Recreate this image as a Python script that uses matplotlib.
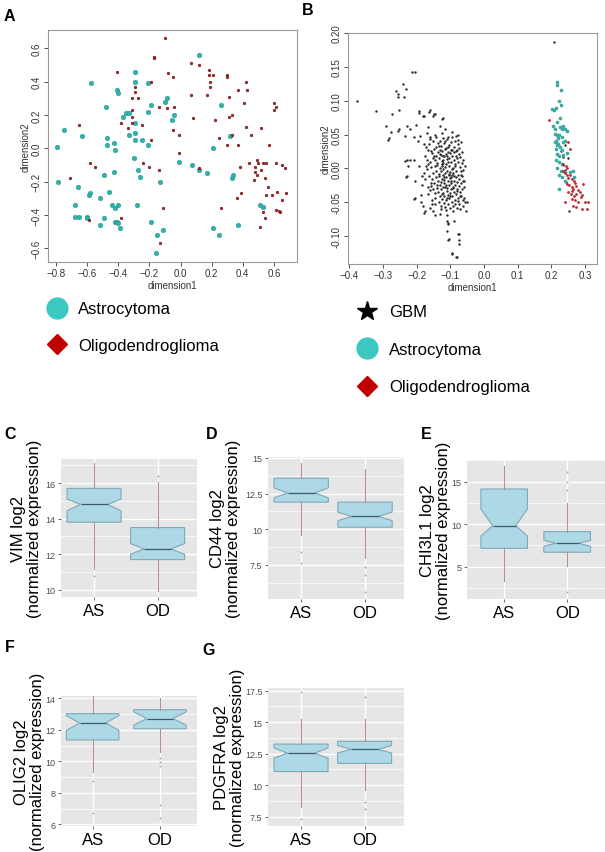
import matplotlib
matplotlib.use("Agg")
import matplotlib.pyplot as plt
from matplotlib.lines import Line2D
from matplotlib.ticker import AutoMinorLocator

plt.rcParams['font.family'] = ['Liberation Sans', 'DejaVu Sans']

# ---------------- data: panel A (MDS, low grade gliomas) ----------------
astro_a = [(-0.79, 0.01), (-0.75, 0.11), (-0.785, -0.20), (-0.63, 0.075), (-0.575, 0.39),
           (-0.48, 0.25), (-0.66, -0.23), (-0.59, -0.28), (-0.58, -0.27), (-0.68, -0.34),
           (-0.68, -0.41), (-0.65, -0.41), (-0.60, -0.41), (-0.60, -0.42), (-0.52, -0.30),
           (-0.52, -0.46), (-0.49, -0.42), (-0.49, -0.16), (-0.46, -0.26), (-0.47, 0.06),
           (-0.47, 0.02), (-0.43, 0.03), (-0.42, -0.01), (-0.43, -0.14), (-0.44, -0.34),
           (-0.42, -0.36), (-0.42, -0.44), (-0.41, -0.44), (-0.40, -0.45), (-0.39, -0.48),
           (-0.40, -0.34), (-0.41, 0.35), (-0.40, 0.33), (-0.37, 0.19), (-0.35, 0.21),
           (-0.33, 0.21), (-0.33, 0.08), (-0.30, -0.06), (-0.29, 0.46), (-0.29, 0.40),
           (-0.29, 0.15), (-0.29, 0.09), (-0.29, 0.05), (-0.25, 0.05), (-0.27, -0.13),
           (-0.26, -0.17), (-0.28, -0.34), (-0.21, 0.02), (-0.21, 0.39), (-0.21, 0.22),
           (-0.19, 0.26), (-0.19, -0.44), (-0.13, -0.20), (-0.15, -0.52), (-0.16, -0.63),
           (-0.10, 0.28), (-0.09, 0.30), (-0.11, -0.49), (-0.055, 0.17), (-0.04, 0.20),
           (-0.01, -0.08), (0.075, -0.10), (0.12, 0.56), (0.12, -0.13), (0.17, -0.15),
           (0.21, 0.0), (0.21, -0.48), (0.25, -0.52), (0.26, 0.26), (0.32, 0.075),
           (0.33, -0.18), (0.34, -0.16), (0.37, -0.46), (0.51, -0.34), (0.53, -0.35)]
oligo_a = [(-0.65, 0.14), (-0.71, -0.18), (-0.58, -0.09), (-0.55, -0.11), (-0.59, -0.43),
           (-0.41, 0.46), (-0.38, 0.15), (-0.38, -0.42), (-0.34, 0.12), (-0.31, 0.23),
           (-0.31, 0.30), (-0.31, 0.19), (-0.31, 0.15), (-0.29, 0.34), (-0.29, 0.37),
           (-0.27, 0.30), (-0.25, 0.14), (-0.24, -0.09), (-0.20, -0.11), (-0.19, 0.40),
           (-0.19, 0.05), (-0.17, 0.55), (-0.17, 0.54), (-0.14, 0.25), (-0.14, -0.13),
           (-0.13, -0.57), (-0.11, -0.36), (-0.08, 0.45), (-0.10, 0.66), (-0.09, 0.24),
           (-0.05, 0.43), (-0.04, 0.25), (-0.05, 0.11), (-0.01, -0.03), (-0.01, 0.08),
           (0.07, 0.32), (0.07, 0.51), (0.08, 0.18), (0.12, 0.50), (0.12, -0.12),
           (0.17, 0.32), (0.18, 0.44), (0.18, 0.47), (0.19, 0.40), (0.19, 0.37),
           (0.21, 0.44), (0.22, 0.17), (0.25, 0.06), (0.26, -0.36), (0.30, 0.44),
           (0.30, 0.43), (0.30, 0.02), (0.31, 0.31), (0.31, 0.19), (0.33, 0.20),
           (0.33, 0.08), (0.36, -0.30), (0.37, 0.35), (0.37, 0.02), (0.38, -0.11),
           (0.39, -0.27), (0.41, 0.27), (0.42, 0.40), (0.42, 0.13), (0.43, 0.35),
           (0.44, -0.09), (0.45, 0.08), (0.47, -0.19), (0.48, -0.11), (0.48, -0.14),
           (0.49, -0.16), (0.49, -0.07), (0.50, -0.09), (0.51, -0.47), (0.52, 0.12),
           (0.52, -0.13), (0.53, -0.09), (0.53, -0.38), (0.54, -0.42), (0.54, -0.18),
           (0.55, -0.09), (0.56, -0.23), (0.55, -0.28), (0.57, 0.02), (0.59, -0.28),
           (0.60, 0.27), (0.60, 0.23), (0.61, 0.25), (0.61, -0.09), (0.61, -0.37),
           (0.62, -0.26), (0.64, -0.38), (0.635, -0.375), (0.65, -0.10), (0.65, -0.31),
           (0.67, -0.12), (0.68, -0.27)]

# ---------------- data: panel B (MDS with GBM) ----------------
gbm_outer = [(-0.376, 0.099), (-0.321, 0.085), (-0.292, 0.063), (-0.284, 0.042), (-0.277, 0.054),
             (-0.273, 0.081), (-0.261, 0.115), (-0.256, 0.110), (-0.254, 0.106), (-0.253, 0.087),
             (-0.256, 0.056), (-0.242, 0.124), (-0.237, 0.105), (-0.232, 0.118), (-0.234, 0.011),
             (-0.226, 0.004), (-0.232, -0.013), (-0.213, 0.143), (-0.204, 0.143), (-0.208, -0.045),
             (-0.193, 0.082), (-0.186, -0.050), (-0.182, 0.077), (-0.178, -0.065), (-0.164, 0.084),
             (-0.150, 0.078), (-0.146, 0.080), (-0.152, -0.063), (-0.154, -0.052), (-0.124, 0.073),
             (-0.111, -0.077), (-0.106, -0.082), (-0.104, -0.104), (-0.095, -0.126), (-0.081, -0.130),
             (-0.075, -0.097), (-0.073, -0.111), (-0.061, -0.047), (-0.051, -0.049), (-0.076, 0.049),
             (-0.192, 0.085), (-0.179, 0.077), (-0.160, 0.086), (-0.147, 0.080), (-0.121, 0.074),
             (-0.202, 0.064), (-0.228, 0.063), (-0.219, 0.058), (-0.253, 0.058), (-0.282, 0.045),
             (-0.165, 0.061), (-0.170, 0.053), (-0.189, 0.048), (-0.209, 0.046), (-0.235, 0.048),
             (-0.130, 0.063), (-0.116, 0.059), (-0.096, 0.054), (-0.083, 0.048), (-0.145, 0.050),
             (-0.126, 0.053), (-0.106, 0.046), (-0.077, 0.042), (-0.160, 0.046), (-0.179, 0.036),
             (-0.196, 0.041), (-0.228, 0.013), (-0.219, 0.013), (-0.209, 0.013), (-0.228, -0.011),
             (-0.206, -0.018), (-0.194, 0.003), (-0.184, -0.011), (-0.185, -0.024), (-0.204, -0.044),
             (-0.186, -0.039), (-0.182, -0.056), (-0.176, -0.063), (-0.160, -0.058), (-0.145, -0.068),
             (-0.130, -0.067), (-0.110, -0.068), (-0.106, -0.081), (-0.110, -0.093), (-0.106, -0.105),
             (-0.077, -0.096), (-0.075, -0.105), (-0.096, -0.125), (-0.083, -0.130), (-0.088, -0.077),
             (-0.072, -0.060), (-0.062, -0.056), (-0.053, -0.063), (-0.057, -0.049), (-0.067, -0.041),
             (-0.060, -0.019), (-0.067, -0.009)]
gbm_core = [(-0.176, 0.019), (-0.173, 0.004), (-0.177, -0.007), (-0.174, -0.016), (-0.172, 0.031),
            (-0.167, 0.027), (-0.170, -0.001), (-0.166, -0.028), (-0.169, 0.012), (-0.165, -0.038),
            (-0.162, 0.036), (-0.159, 0.009), (-0.163, -0.011), (-0.160, -0.032), (-0.158, -0.022),
            (-0.161, 0.044), (-0.154, 0.023), (-0.156, 0.002), (-0.153, -0.016), (-0.157, -0.026),
            (-0.152, 0.015), (-0.155, -0.046), (-0.150, 0.040), (-0.147, 0.018), (-0.151, -0.007),
            (-0.148, -0.021), (-0.146, -0.036), (-0.149, 0.029), (-0.145, -0.052), (-0.142, 0.031),
            (-0.144, 0.012), (-0.141, -0.003), (-0.143, -0.013), (-0.140, -0.029), (-0.144, -0.043),
            (-0.139, 0.005), (-0.142, 0.047), (-0.137, 0.024), (-0.139, 0.008), (-0.136, -0.019),
            (-0.138, -0.034), (-0.135, -0.049), (-0.137, 0.037), (-0.134, -0.008), (-0.132, 0.041),
            (-0.134, 0.016), (-0.131, 0.001), (-0.133, -0.011), (-0.130, -0.025), (-0.132, -0.040),
            (-0.129, -0.055), (-0.131, 0.028), (-0.127, 0.033), (-0.129, 0.020), (-0.126, 0.006),
            (-0.128, -0.004), (-0.125, -0.015), (-0.127, -0.030), (-0.124, -0.045), (-0.126, 0.011),
            (-0.128, -0.060), (-0.123, 0.045), (-0.125, 0.026), (-0.122, 0.013), (-0.121, -0.001),
            (-0.123, -0.009), (-0.120, -0.021), (-0.122, -0.036), (-0.119, -0.051), (-0.124, 0.003),
            (-0.119, 0.037), (-0.118, 0.018), (-0.121, 0.008), (-0.117, -0.006), (-0.119, -0.017),
            (-0.116, -0.027), (-0.118, -0.041), (-0.115, -0.057), (-0.117, 0.029), (-0.114, 0.030),
            (-0.113, 0.022), (-0.115, 0.002), (-0.112, -0.012), (-0.114, -0.024), (-0.111, -0.033),
            (-0.113, -0.047), (-0.112, -0.062), (-0.110, 0.014), (-0.109, 0.043), (-0.108, 0.010),
            (-0.110, -0.003), (-0.107, -0.019), (-0.109, -0.029), (-0.106, -0.039), (-0.108, -0.053),
            (-0.107, 0.025), (-0.105, -0.008), (-0.104, 0.034), (-0.103, 0.016), (-0.105, 0.004),
            (-0.102, -0.014), (-0.104, -0.025), (-0.101, -0.036), (-0.103, -0.044), (-0.102, -0.058),
            (-0.100, 0.023), (-0.099, 0.028), (-0.098, 0.009), (-0.100, -0.005), (-0.097, -0.021),
            (-0.099, -0.031), (-0.096, -0.049), (-0.098, 0.039), (-0.097, -0.013), (-0.095, 0.046),
            (-0.094, 0.019), (-0.093, 0.001), (-0.095, -0.010), (-0.092, -0.027), (-0.094, -0.040),
            (-0.093, -0.055), (-0.091, -0.063), (-0.090, 0.032), (-0.089, 0.013), (-0.091, -0.007),
            (-0.088, -0.018), (-0.090, -0.034), (-0.087, -0.046), (-0.089, 0.024), (-0.086, 0.040),
            (-0.085, 0.006), (-0.084, -0.013), (-0.086, -0.024), (-0.083, -0.038), (-0.085, -0.052),
            (-0.082, 0.018), (-0.081, 0.027), (-0.080, 0.015), (-0.082, -0.003), (-0.079, -0.020),
            (-0.081, -0.030), (-0.078, -0.043), (-0.080, -0.058), (-0.077, 0.036), (-0.076, 0.009),
            (-0.078, -0.009), (-0.075, -0.026), (-0.077, -0.048), (-0.074, 0.021), (-0.073, 0.030),
            (-0.072, 0.002), (-0.074, -0.015), (-0.071, -0.035), (-0.073, -0.053), (-0.070, 0.017),
            (-0.069, -0.004), (-0.068, -0.022), (-0.070, -0.041), (-0.067, 0.039), (-0.066, 0.025),
            (-0.065, 0.008), (-0.064, -0.011), (-0.066, -0.030), (-0.062, -0.002), (-0.061, -0.019),
            (-0.060, -0.044), (-0.063, 0.013), (-0.058, -0.027), (-0.057, 0.004),
            (-0.146, 0.003), (-0.139, -0.024), (-0.131, 0.022), (-0.126, -0.038), (-0.121, 0.018),
            (-0.118, -0.012), (-0.114, 0.007), (-0.111, -0.044), (-0.107, 0.031), (-0.103, -0.009),
            (-0.099, -0.018), (-0.095, 0.028), (-0.091, -0.029), (-0.087, 0.004), (-0.134, 0.033),
            (-0.152, -0.031), (-0.158, 0.026), (-0.166, 0.006), (-0.143, 0.019), (-0.129, -0.020),
            (-0.123, -0.028), (-0.117, 0.040), (-0.110, 0.019), (-0.102, -0.041), (-0.096, -0.001),
            (-0.089, -0.011), (-0.083, 0.026), (-0.079, -0.033)]
gbm_right = [(0.209, 0.187), (0.241, 0.034), (0.234, 0.017), (0.236, 0.005), (0.250, 0.016),
             (0.245, -0.020), (0.253, -0.063), (0.228, 0.026), (0.240, -0.002)]
astro_b = [(0.216, 0.128), (0.218, 0.123), (0.229, 0.116), (0.224, 0.100), (0.228, 0.094),
           (0.203, 0.088), (0.209, 0.086), (0.213, 0.089), (0.226, 0.074), (0.216, 0.068),
           (0.206, 0.063), (0.210, 0.059), (0.226, 0.061), (0.231, 0.059), (0.236, 0.063),
           (0.241, 0.059), (0.246, 0.056), (0.211, 0.051), (0.218, 0.049), (0.224, 0.050),
           (0.231, 0.046), (0.211, 0.039), (0.216, 0.034), (0.221, 0.036), (0.226, 0.031),
           (0.214, 0.029), (0.236, 0.039), (0.242, 0.041), (0.231, 0.027), (0.218, 0.022),
           (0.224, 0.019), (0.236, 0.020), (0.246, 0.023), (0.214, 0.012), (0.224, 0.009),
           (0.231, 0.007), (0.218, 0.000), (0.228, -0.003), (0.241, -0.005), (0.224, -0.010),
           (0.231, -0.013), (0.256, -0.005), (0.265, -0.004), (0.241, -0.018), (0.267, -0.013),
           (0.223, -0.030), (0.219, 0.045), (0.213, 0.041)]
oligo_b = [(0.193, 0.072), (0.251, 0.039), (0.256, 0.029), (0.236, 0.007), (0.243, 0.004),
           (0.248, 0.001), (0.234, -0.003), (0.241, -0.006), (0.246, -0.010), (0.256, -0.009),
           (0.251, -0.014), (0.261, -0.015), (0.267, -0.019), (0.246, -0.023), (0.254, -0.025),
           (0.261, -0.027), (0.265, -0.030), (0.273, -0.026), (0.280, -0.032), (0.251, -0.035),
           (0.259, -0.037), (0.267, -0.040), (0.275, -0.037), (0.285, -0.035), (0.290, -0.039),
           (0.295, -0.023), (0.261, -0.045), (0.270, -0.047), (0.280, -0.050), (0.287, -0.042),
           (0.265, -0.055), (0.275, -0.057), (0.300, -0.049), (0.290, -0.060), (0.305, -0.060),
           (0.241, -0.050), (0.310, -0.050), (0.263, -0.033), (0.270, -0.022)]

# ---------------- data: box plots C-G (AS, OD) ----------------
groups = ["AS", "OD"]
genes = ["VIM", "CD44", "CHI3L1", "OLIG2", "PDGFRA"]
q1 = {"VIM": [13.8, 11.7], "CD44": [11.9, 10.14], "CHI3L1": [7.16, 6.7],
      "OLIG2": [11.36, 12.07], "PDGFRA": [11.08, 11.73]}
med = {"VIM": [14.8, 12.3], "CD44": [12.55, 10.9], "CHI3L1": [9.82, 7.75],
       "OLIG2": [12.44, 12.72], "PDGFRA": [12.54, 12.84]}
q3 = {"VIM": [15.7, 13.5], "CD44": [13.58, 11.9], "CHI3L1": [14.14, 9.12],
      "OLIG2": [13.03, 13.28], "PDGFRA": [13.26, 13.48]}
whislo = {"VIM": [11.2, 9.94], "CD44": [9.6, 7.97], "CHI3L1": [3.35, 5.1],
          "OLIG2": [9.32, 10.57], "PDGFRA": [8.26, 9.6]}
whishi = {"VIM": [17.1, 16.07], "CD44": [14.63, 14.2], "CHI3L1": [16.9, 12.45],
          "OLIG2": [14.2, 14.0], "PDGFRA": [15.25, 15.25]}
notch_lo = {"VIM": [14.44, 12.0], "CD44": [12.2, 10.6], "CHI3L1": [8.6, 7.4],
            "OLIG2": [11.97, 12.3], "PDGFRA": [12.15, 12.55]}
notch_hi = {"VIM": [15.1, 12.6], "CD44": [12.9, 11.2], "CHI3L1": [11.8, 8.1],
            "OLIG2": [12.9, 13.15], "PDGFRA": [12.95, 13.15]}
outliers = {"VIM": [[10.79], [16.4]], "CD44": [[8.39, 7.63], [7.34, 6.8, 5.59]],
            "CHI3L1": [[], [16.1, 15.0, 14.06, 1.98]],
            "OLIG2": [[8.76, 6.73], [10.2, 9.95, 9.68, 7.25, 6.42]],
            "PDGFRA": [[17.4, 7.28], [16.97, 8.7, 8.1]]}
yticks = {"VIM": [10, 12, 14, 16], "CD44": [7.5, 10, 12.5, 15], "CHI3L1": [5, 10, 15],
          "OLIG2": [6, 8, 10, 12, 14], "PDGFRA": [7.5, 10, 12.5, 15, 17.5]}
yticklabels = {"VIM": ["10", "12", "14", "16"], "CD44": ["7.5", "10", "12.5", "15"],
               "CHI3L1": ["5", "10", "15"], "OLIG2": ["6", "8", "10", "12", "14"],
               "PDGFRA": ["7.5", "10", "12.5", "15", "17.5"]}
ylims = {"VIM": (9.6, 17.35), "CD44": (5.1, 15.07), "CHI3L1": (1.2, 17.55),
         "OLIG2": (5.9, 14.15), "PDGFRA": (6.76, 17.71)}

# ---------------- layout (pixel boxes: left, top, right, bottom) ----------------
W, H = 605, 853
fig = plt.figure(figsize=(W / 100, H / 100), dpi=100)


def px_axes(l, t, r, b):
    return fig.add_axes([l / W, 1 - b / H, (r - l) / W, (b - t) / H])


def xs(pts):
    return [p[0] for p in pts]


def ys(pts):
    return [p[1] for p in pts]


teal_a = "#2fb3ab"
red_a = "#a8201f"
teal_leg = "#3cc7c1"
red_leg = "#c00000"

# panel A
axA = px_axes(48, 31, 297, 263)
axA.scatter(xs(astro_a), ys(astro_a), s=11, color=teal_a,
            edgecolors="#1f8a84", linewidths=0.3, zorder=3)
axA.scatter(xs(oligo_a), ys(oligo_a), s=4, color=red_a,
            edgecolors="#5a1010", linewidths=0.3, zorder=3)
axA.set_xlim(-0.851, 0.748)
axA.set_ylim(-0.682, 0.71)
axA.set_xticks([-0.8, -0.6, -0.4, -0.2, 0.0, 0.2, 0.4, 0.6])
axA.set_yticks([-0.6, -0.4, -0.2, 0.0, 0.2, 0.4, 0.6])
axA.set_xlabel("dimension1", fontsize=7, color="#333333", labelpad=1)
axA.set_ylabel("dimension2", fontsize=7, color="#333333", labelpad=1)

# panel B
axB = px_axes(348, 34, 597, 265)
gbm_all = gbm_outer + gbm_core + gbm_right
axB.scatter(xs(gbm_all), ys(gbm_all), s=3, color="#2a2a2a", linewidths=0, zorder=3)
axB.scatter(xs(astro_b), ys(astro_b), s=7, color="#3aaaa2", linewidths=0, zorder=4)
axB.scatter(xs(oligo_b), ys(oligo_b), s=4, color="#c0282d", linewidths=0, zorder=5)
axB.set_xlim(-0.404, 0.336)
axB.set_ylim(-0.141, 0.2)
axB.set_xticks([-0.4, -0.3, -0.2, -0.1, 0.0, 0.1, 0.2, 0.3])
axB.set_yticks([-0.10, -0.05, 0.0, 0.05, 0.10, 0.15, 0.20])
axB.set_yticklabels(["-0.10", "-0.05", "0.00", "0.05", "0.10", "0.15", "0.20"])
axB.set_xlabel("dimension1", fontsize=7, color="#333333", labelpad=1)
axB.set_ylabel("dimension2", fontsize=7, color="#333333", labelpad=1)

for ax in (axA, axB):
    for sp in ax.spines.values():
        sp.set_color("#999999")
        sp.set_linewidth(0.8)
    ax.tick_params(labelsize=7, colors="#333333", length=3, width=0.6, pad=1.5)
    for lab in ax.get_yticklabels():
        lab.set_rotation(90)
        lab.set_va("center")

# legends
leg_a = [Line2D([], [], marker="o", ls="", color=teal_leg, markersize=15),
         Line2D([], [], marker="D", ls="", color=red_leg, markersize=10)]
fig.legend(leg_a, ["Astrocytoma", "Oligodendroglioma"], loc="upper left",
           bbox_to_anchor=(40 / W, 1 - 294 / H), frameon=False, fontsize=12,
           handlelength=1.0, handletextpad=0.8, labelspacing=1.3, borderpad=0)
leg_b = [Line2D([], [], marker="*", ls="", color="black", markersize=15),
         Line2D([], [], marker="o", ls="", color=teal_leg, markersize=15),
         Line2D([], [], marker="D", ls="", color=red_leg, markersize=10)]
fig.legend(leg_b, ["GBM", "Astrocytoma", "Oligodendroglioma"], loc="upper left",
           bbox_to_anchor=(350 / W, 1 - 297 / H), frameon=False, fontsize=12,
           handlelength=1.0, handletextpad=0.85, labelspacing=1.35, borderpad=0)

# box panels
box_pos = {"VIM": (61, 460, 197, 598), "CD44": (268, 458, 404, 600),
           "CHI3L1": (467, 461, 605, 600), "OLIG2": (61, 697, 197, 827),
           "PDGFRA": (268, 689, 404, 827)}
box_xlim = {"VIM": (0.48, 2.62), "CD44": (0.48, 2.61), "CHI3L1": (0.41, 2.6),
            "OLIG2": (0.53, 2.55), "PDGFRA": (0.48, 2.62)}
box_w = {"VIM": 0.85, "CD44": 0.85, "CHI3L1": 0.74, "OLIG2": 0.78, "PDGFRA": 0.85}
label_x = {"VIM": -19, "CD44": -27, "CHI3L1": -16, "OLIG2": -16, "PDGFRA": -23}

for g in genes:
    l, t, r, b = box_pos[g]
    ax = px_axes(l, t, r, b)
    stats = []
    for i, grp in enumerate(groups):
        stats.append(dict(med=med[g][i], q1=q1[g][i], q3=q3[g][i],
                          whislo=whislo[g][i], whishi=whishi[g][i],
                          cilo=notch_lo[g][i], cihi=notch_hi[g][i],
                          fliers=outliers[g][i], label=grp))
    ax.set_facecolor("#e6e6e6")
    ax.bxp(stats, positions=[1, 2], widths=box_w[g], shownotches=True,
           patch_artist=True, showcaps=False,
           boxprops=dict(facecolor="#add8e6", edgecolor="#7fa9b8", linewidth=0.8),
           medianprops=dict(color="#3c5a66", linewidth=0.9),
           whiskerprops=dict(color="#b49090", linewidth=0.8),
           flierprops=dict(marker="o", markersize=1.5, markerfacecolor="#b0b0b0",
                           markeredgecolor="none"), zorder=3)
    ax.set_xlim(*box_xlim[g])
    ax.set_ylim(*ylims[g])
    ax.set_yticks(yticks[g])
    ax.set_yticklabels(yticklabels[g])
    ax.set_xticks([1, 2])
    ax.set_xticklabels(groups)
    ax.yaxis.set_minor_locator(AutoMinorLocator(2))
    ax.grid(True, which="major", color="white", linewidth=1.0, zorder=0)
    ax.grid(True, which="minor", axis="y", color="white", linewidth=0.5, zorder=0)
    ax.set_axisbelow(True)
    for sp in ax.spines.values():
        sp.set_visible(False)
    ax.tick_params(axis="y", labelsize=6.5, colors="#4d4d4d", length=2.5, width=0.6, pad=1.5)
    ax.tick_params(axis="x", labelsize=12, labelcolor="black", color="#4d4d4d",
                   length=2.5, width=0.6, pad=1.5)
    ax.tick_params(which="minor", length=0)
    ax.set_ylabel(f"{g} log2\n(normalized expression)", fontsize=12, linespacing=1.05)
    ax.yaxis.set_label_coords(label_x[g] / (r - l), 0.5)

# panel letters
for letter, x, y in [("A", 4, 9), ("B", 302, 3), ("C", 4, 427), ("D", 206, 427),
                     ("E", 421, 427), ("F", 5, 640), ("G", 202, 643)]:
    fig.text(x / W, 1 - y / H, letter, fontsize=11.5, fontweight="bold", va="top", ha="left")

fig.savefig("out.png", dpi=100)
